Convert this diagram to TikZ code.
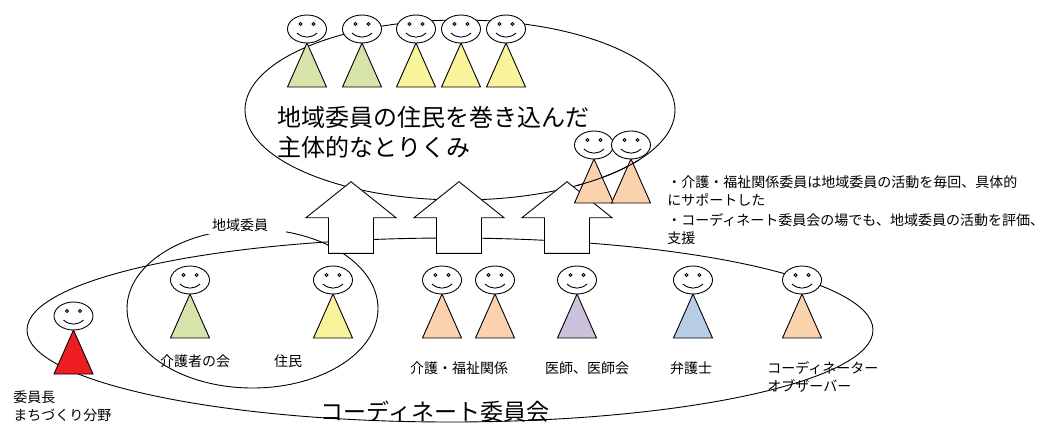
\documentclass[tikz,border=0pt]{standalone}
\usepackage{fontspec}
\setmainfont{Noto Sans CJK JP}

\definecolor{verde}{HTML}{D7E4A9}
\definecolor{amarillo}{HTML}{F9F39B}
\definecolor{naranja}{HTML}{FAD2AE}
\definecolor{lila}{HTML}{CCC1DA}
\definecolor{azul}{HTML}{B9CDE5}
\definecolor{rojo}{HTML}{EE1D23}

\tikzset{
  pics/persona/.style={code={
    \draw[fill=#1] (0,14) -- (19.5,58) -- (-19.5,58) -- cycle;
    \draw[fill=white] (0,0) ellipse [x radius=19.5, y radius=14];
    \draw (-6.5,-5) circle [radius=1.6];
    \draw (6.5,-5) circle [radius=1.6];
    \draw (-10,4) .. controls (-4,9.5) and (4,9.5) .. (10,4);
  }},
  flecha/.style={draw, fill=white},
  etiqueta/.style={font=\fontsize{14}{18}\selectfont, inner sep=0pt},
  titulo/.style={font=\fontsize{24}{30}\selectfont, inner sep=0pt}
}

\begin{document}
\begin{tikzpicture}[x=1pt,y=-1pt,line width=0.9pt]
        \useasboundingbox (0,0) rectangle (1060,423);

        % Elipses
        \draw (460,110) ellipse [x radius=215, y radius=90];
        \draw (450,330) ellipse [x radius=423, y radius=92];
        \draw (252.5,308.5) ellipse [x radius=125.5, y radius=79.5];

        % Flechas
        \foreach \x in {351,459,567}
          \draw[flecha] (\x,181.7) -- (\x+45,217.7) -- (\x+22.5,217.7) -- (\x+22.5,253.3)
            -- (\x-22.5,253.3) -- (\x-22.5,217.7) -- (\x-45,217.7) -- cycle;

        % Personas
        \foreach \x/\c in {307/verde,362/verde,416/amarillo,461/amarillo,506/amarillo}
          \pic at (\x,29) {persona=\c};
        \foreach \x in {594,631}
          \pic at (\x,145) {persona=naranja};
        \pic at (73.5,316) {persona=rojo};
        \pic at (190,280) {persona=verde};
        \pic at (333,280) {persona=amarillo};
        \foreach \x/\c in {442/naranja,495/naranja,577/lila,693/azul,802/naranja}
          \pic at (\x,280) {persona=\c};

        % Linea sobre las personas de la derecha
        \begin{scope}
          \clip (578,160) rectangle (660,205);
          \draw (460,110) ellipse [x radius=215, y radius=90];
        \end{scope}

        % Textos
        \node[titulo, anchor=west, align=left] (tomain) at (277,132)
          {地域委員の住民を巻き込んだ\\主体的なとりくみ};
        \node[font=\fontsize{23}{28}\selectfont, inner sep=0pt] (comite) at (435,412) {コーディネート委員会};
        \node[etiqueta, fill=white, inner xsep=18pt, inner ysep=3pt] (chiiki) at (240,225) {地域委員};
        \node[etiqueta] (kaigosha) at (195,361) {介護者の会};
        \node[etiqueta] (jumin) at (288,361) {住民};
        \node[etiqueta, anchor=west, align=left] (iinchou) at (13,406) {委員長\\まちづくり分野};
        \node[etiqueta] (fukushi) at (459,368) {介護・福祉関係};
        \node[etiqueta] (ishi) at (587,368) {医師、医師会};
        \node[etiqueta] (bengoshi) at (691,368) {弁護士};
        \node[etiqueta, anchor=west, align=left] (coord) at (767,376.5) {コーディネーター\\オブザーバー};
        \node[etiqueta, anchor=west, align=left] (nota) at (667,210)
          {・介護・福祉関係委員は地域委員の活動を毎回、具体的\\にサポートした\\[2pt]
           ・コーディネート委員会の場でも、地域委員の活動を評価、\\支援};
    \end{tikzpicture}
\end{document}
